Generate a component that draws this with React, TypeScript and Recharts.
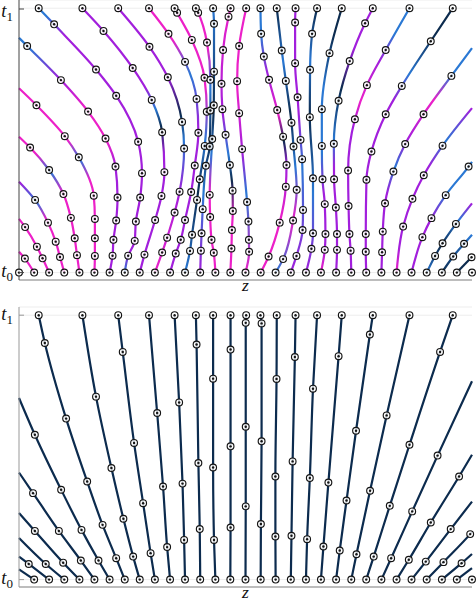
import { LineChart, Line, XAxis, YAxis, CartesianGrid } from "recharts";

type Pt = [number, number];
type Row = { z: number; t: number; mark: boolean };

// starting positions at t0 (one per trajectory)
const startZ = [
  -1, -0.933, -0.867, -0.8, -0.733, -0.667, -0.6, -0.533, -0.467, -0.4, -0.333,
  -0.267, -0.2, -0.133, -0.067, 0, 0.067, 0.133, 0.2, 0.267, 0.333, 0.4, 0.467,
  0.533, 0.6, 0.667, 0.733, 0.8, 0.867, 0.933, 1,
];

// where each trajectory lands at t1 (null = leaves the window first)
const endZ: (number | null)[] = [
  null, null, null, null, null, null, null,
  -0.913, -0.72, -0.562, -0.426, -0.313, -0.219, -0.143, -0.066, 0.003, 0.066,
  0.138, 0.221, 0.316, 0.425, 0.562, 0.724, 0.915,
  null, null, null, null, null, null, null,
];

// learned flow: solver steps between t0 and t1, [z, t]
const flowMarks: Pt[][] = [
  [],
  [[-0.974, 0.053]],
  [[-0.896, 0.054], [-0.921, 0.098], [-0.973, 0.172]],
  [[-0.819, 0.059], [-0.838, 0.117], [-0.872, 0.189], [-0.929, 0.275]],
  [[-0.744, 0.066], [-0.754, 0.13], [-0.771, 0.207], [-0.804, 0.297], [-0.867, 0.388], [-0.951, 0.473]],
  [[-0.665, 0.063], [-0.665, 0.13], [-0.665, 0.203], [-0.67, 0.291], [-0.736, 0.436], [-0.798, 0.516], [-0.923, 0.633]],
  [[-0.587, 0.064], [-0.583, 0.124], [-0.571, 0.197], [-0.565, 0.284], [-0.574, 0.401], [-0.618, 0.507], [-0.695, 0.609], [-0.815, 0.728], [-0.964, 0.857]],
  [[-0.518, 0.064], [-0.489, 0.12], [-0.484, 0.193], [-0.465, 0.284], [-0.457, 0.376], [-0.474, 0.495], [-0.571, 0.669], [-0.66, 0.768], [-0.845, 0.939]],
  [[-0.446, 0.068], [-0.399, 0.199], [-0.371, 0.29], [-0.358, 0.38], [-0.368, 0.531], [-0.414, 0.653], [-0.498, 0.774], [-0.627, 0.914]],
  [[-0.368, 0.076], [-0.346, 0.132], [-0.313, 0.227], [-0.291, 0.306], [-0.271, 0.469], [-0.28, 0.57], [-0.343, 0.739], [-0.424, 0.854]],
  [[-0.308, 0.072], [-0.286, 0.124], [-0.267, 0.199], [-0.24, 0.305], [-0.224, 0.405], [-0.208, 0.529], [-0.216, 0.657], [-0.267, 0.797], [-0.34, 0.903]],
  [[-0.245, 0.082], [-0.236, 0.143], [-0.214, 0.275], [-0.202, 0.353], [-0.18, 0.479], [-0.171, 0.608], [-0.181, 0.737], [-0.237, 0.88], [-0.302, 0.983]],
  [[-0.197, 0.083], [-0.194, 0.149], [-0.189, 0.24], [-0.175, 0.404], [-0.158, 0.477], [-0.155, 0.613], [-0.155, 0.729], [-0.17, 0.87], [-0.209, 0.983]],
  [[-0.14, 0.075], [-0.15, 0.124], [-0.156, 0.21], [-0.158, 0.294], [-0.147, 0.505], [-0.14, 0.633], [-0.139, 0.76], [-0.139, 0.941]],
  [[-0.062, 0.091], [-0.06, 0.161], [-0.056, 0.233], [-0.057, 0.31], [-0.069, 0.407], [-0.088, 0.521], [-0.102, 0.618], [-0.106, 0.714], [-0.099, 0.842], [-0.075, 0.968]],
  [[0.016, 0.079], [0.015, 0.124], [0.013, 0.193], [0.007, 0.267], [-0.015, 0.467], [-0.028, 0.603], [-0.037, 0.724], [-0.028, 0.857]],
  [[0.102, 0.061], [0.151, 0.189], [0.178, 0.325], [0.181, 0.407], [0.166, 0.514], [0.14, 0.615], [0.104, 0.729], [0.081, 0.817], [0.069, 0.903]],
  [[0.166, 0.051], [0.21, 0.197], [0.226, 0.313], [0.212, 0.477], [0.203, 0.567], [0.178, 0.725], [0.16, 0.84]],
  [[0.225, 0.063], [0.252, 0.161], [0.254, 0.237], [0.25, 0.429], [0.243, 0.502], [0.23, 0.663], [0.219, 0.792], [0.219, 0.946]],
  [[0.291, 0.09], [0.298, 0.149], [0.298, 0.357], [0.284, 0.588], [0.285, 0.767], [0.294, 0.903]],
  [[0.35, 0.086], [0.353, 0.146], [0.35, 0.259], [0.34, 0.353], [0.337, 0.479], [0.337, 0.618], [0.371, 0.83]],
  [[0.404, 0.086], [0.404, 0.146], [0.399, 0.246], [0.391, 0.353], [0.39, 0.487], [0.411, 0.65], [0.46, 0.8], [0.528, 0.943]],
  [[0.464, 0.083], [0.459, 0.146], [0.455, 0.252], [0.453, 0.386], [0.483, 0.58], [0.536, 0.709], [0.619, 0.842]],
  [[0.531, 0.079], [0.531, 0.146], [0.534, 0.351], [0.556, 0.458], [0.619, 0.599], [0.69, 0.706], [0.818, 0.875]],
  [[0.603, 0.077], [0.606, 0.155], [0.616, 0.262], [0.653, 0.382], [0.705, 0.486], [0.786, 0.599], [0.909, 0.744]],
  [[0.696, 0.174], [0.737, 0.279], [0.787, 0.368], [0.87, 0.48]],
  [[0.781, 0.134], [0.821, 0.206], [0.884, 0.293], [0.985, 0.401]],
  [[0.837, 0.063], [0.87, 0.111], [0.929, 0.184]],
  [[0.917, 0.061], [0.965, 0.109]],
  [[0.998, 0.058]],
  [],
];

// where flow trajectories cross the window edge
const flowExits: (Pt | null)[] = [
  null, [-1, 0.079], [-1, 0.203], [-1, 0.344], [-1, 0.514], [-1, 0.697], [-1, 0.888],
  null, null, null, null, null, null, null, null, null, null, null, null, null, null,
  null, null, null, [1, 0.849], [1, 0.622], [1, 0.419], [1, 0.262], [1, 0.143], null, null,
];

// colour along each flow path: [t, colour key]
const flowColors: [number, string][][] = [
  [[0, "M"]],
  [[0, "M"]],
  [[0, "M"]],
  [[0, "M"], [0.2, "M"], [0.27, "B"], [0.34, "P"]],
  [[0, "M"], [0.3, "M"], [0.38, "B"], [0.45, "M"]],
  [[0, "M"], [0.35, "M"], [0.43, "B"], [0.5, "M"], [0.62, "M"], [0.7, "P"]],
  [[0, "P"], [0.4, "P"], [0.5, "M"], [0.62, "M"], [0.73, "P"], [0.85, "B"]],
  [[0, "B"], [0.08, "P"], [0.9, "P"], [0.97, "B"]],
  [[0, "P"], [0.45, "P"], [0.55, "N"], [0.62, "B"], [0.7, "P"]],
  [[0, "M"], [0.3, "P"], [0.5, "B"], [0.6, "N"], [0.75, "P"]],
  [[0, "P"], [0.55, "P"], [0.75, "B"], [0.88, "M"]],
  [[0, "B"], [0.3, "N"], [0.5, "B"], [0.7, "M"]],
  [[0, "P"], [0.3, "B"], [0.5, "N"], [0.7, "B"], [0.85, "M"]],
  [[0, "M"], [0.3, "M"], [0.45, "B"], [0.6, "N"], [1, "B"]],
  [[0, "M"], [0.2, "M"], [0.35, "N"], [0.45, "B"], [0.6, "P"], [1, "M"]],
  [[0, "M"], [0.3, "B"], [0.45, "P"], [0.7, "M"]],
  [[0, "M"], [0.2, "M"], [0.4, "P"], [0.5, "N"], [0.6, "M"], [0.75, "P"], [0.9, "B"]],
  [[0, "B"], [0.2, "M"], [0.4, "B"], [0.6, "N"], [0.8, "B"], [1, "N"]],
  [[0, "P"], [0.4, "B"], [0.6, "P"]],
  [[0, "P"], [0.3, "B"], [0.6, "N"], [0.8, "B"], [1, "N"]],
  [[0, "M"], [0.1, "P"], [0.3, "P"], [0.45, "B"], [0.7, "B"], [0.9, "N"]],
  [[0, "P"], [0.4, "P"], [0.5, "B"], [0.7, "N"], [0.85, "P"]],
  [[0, "P"], [0.55, "P"], [0.65, "M"], [0.8, "P"], [0.9, "B"]],
  [[0, "P"], [0.65, "P"], [0.75, "B"], [0.9, "N"]],
  [[0, "P"], [0.3, "P"], [0.4, "B"], [0.5, "P"], [0.65, "M"], [0.75, "B"], [0.85, "N"]],
  [[0, "M"], [0.1, "P"], [0.4, "P"], [0.5, "B"], [0.62, "P"]],
  [[0, "P"], [0.2, "P"], [0.3, "B"], [0.42, "P"]],
  [[0, "B"], [0.1, "N"], [0.2, "B"], [0.26, "P"]],
  [[0, "N"], [0.14, "B"]],
  [[0, "N"]],
  [[0, "N"]],
];

// straight (rectified) paths: intermediate steps, [z, t]
const straightMarks: Pt[][] = [
  [],
  [],
  [[-0.957, 0.059]],
  [[-0.882, 0.059]],
  [[-0.805, 0.064], [-0.93, 0.184]],
  [[-0.727, 0.072], [-0.824, 0.184], [-0.938, 0.327]],
  [[-0.649, 0.072], [-0.724, 0.188], [-0.814, 0.34], [-0.93, 0.548]],
  [[-0.571, 0.081], [-0.631, 0.207], [-0.699, 0.371], [-0.792, 0.609], [-0.886, 0.895]],
  [[-0.496, 0.087], [-0.539, 0.23], [-0.592, 0.422], [-0.66, 0.692]],
  [[-0.419, 0.1], [-0.452, 0.289], [-0.492, 0.517], [-0.542, 0.861]],
  [[-0.346, 0.123], [-0.364, 0.352], [-0.39, 0.63]],
  [[-0.271, 0.15], [-0.278, 0.363], [-0.293, 0.67]],
  [[-0.202, 0.191], [-0.208, 0.441], [-0.216, 0.889]],
  [[-0.139, 0.15], [-0.143, 0.424], [-0.143, 0.76]],
  [[-0.066, 0.197], [-0.066, 0.504], [-0.066, 0.87]],
  [[0.001, 0.277], [0.001, 0.578], [0.001, 0.971]],
  [[0.068, 0.21], [0.071, 0.523], [0.071, 0.969]],
  [[0.132, 0.163], [0.132, 0.39], [0.137, 0.759]],
  [[0.203, 0.166], [0.208, 0.447], [0.218, 0.842]],
  [[0.272, 0.153], [0.284, 0.384], [0.298, 0.722]],
  [[0.344, 0.125], [0.366, 0.367], [0.411, 0.845]],
  [[0.416, 0.11], [0.446, 0.299], [0.488, 0.563], [0.549, 0.927]],
  [[0.49, 0.096], [0.55, 0.336], [0.623, 0.621]],
  [[0.566, 0.087], [0.637, 0.279], [0.724, 0.51], [0.859, 0.861]],
  [[0.643, 0.081], [0.736, 0.258], [0.848, 0.469]],
  [[0.721, 0.075], [0.818, 0.216], [0.943, 0.39]],
  [[0.796, 0.068], [0.906, 0.191]],
  [[0.874, 0.066], [0.992, 0.172]],
  [[0.954, 0.062]],
  [],
  [],
];

const straightExits: (Pt | null)[] = [
  null, [-1, 0.039], [-1, 0.087], [-1, 0.157], [-1, 0.252], [-1, 0.405], [-1, 0.687],
  null, null, null, null, null, null, null, null, null, null, null, null, null, null,
  null, null, null, [1, 0.75], [1, 0.472], [1, 0.295], [1, 0.18], [1, 0.097], [1, 0.043], null,
];
const straightHidden = [0];

const timeTicks = [0, 1];
const timeSubs = ["0", "1"];
const axisName = "z";

const palette: Record<string, string> = {
  M: "#ec20c8",
  P: "#a21fdc",
  B: "#2a78d4",
  N: "#0c2b4e",
};

const SERIF = "'Liberation Serif', 'DejaVu Serif', serif";
const TICK_FONT = 18.5;

function buildRows(i: number, marks: Pt[][], exits: (Pt | null)[]): Row[] {
  const rows: Row[] = [{ z: startZ[i], t: 0, mark: true }];
  marks[i].forEach(([z, t]) => rows.push({ z, t, mark: true }));
  const end = endZ[i];
  const exit = exits[i];
  if (end !== null) rows.push({ z: end, t: 1, mark: true });
  else if (exit) rows.push({ z: exit[0], t: exit[1], mark: false });
  return rows;
}

function markDot(props: any) {
  const { cx, cy, payload, index } = props;
  if (!payload || !payload.mark || cx == null || cy == null) return <g key={`d${index}`} />;
  return (
    <g key={`d${index}`}>
      <circle cx={cx} cy={cy} r={3.4} fill="#fff" fillOpacity={0.8} stroke="#141414" strokeWidth={1.15} />
      <circle cx={cx} cy={cy} r={1.2} fill="#141414" />
    </g>
  );
}

function Panel({
  id,
  marks,
  exits,
  colors,
  lineColor,
  axisColor,
  hidden,
  top,
  below,
}: {
  id: string;
  marks: Pt[][];
  exits: (Pt | null)[];
  colors?: [number, string][][];
  lineColor?: string;
  axisColor: string;
  hidden: number[];
  top: number;
  below: number;
}) {
  const paths = startZ.map((_, i) => buildRows(i, marks, exits));

  const timeTick = (p: any) => {
    const { x, y, payload, index } = p;
    const sub = timeSubs[timeTicks.indexOf(payload.value)] ?? "";
    // keep the label's box inside the picture when the tick sits at the very top
    const base = Math.max(y + 4.5, TICK_FONT * 0.9);
    return (
      <g key={`tk${index}`}>
        <line x1={x} x2={x + 5} y1={y} y2={y} stroke={axisColor} />
        <text x={x - 6} y={base} textAnchor="end" fontFamily={SERIF} fontStyle="italic" fontSize={TICK_FONT} fill="#111">
          t
          <tspan fontStyle="normal" fontSize={13} dy={4}>
            {sub}
          </tspan>
        </text>
      </g>
    );
  };

  const nameLabel = (p: any) => {
    const vb = p.viewBox || {};
    return (
      <text x={vb.x + vb.width / 2} y={vb.y + 10.8} textAnchor="middle" fontFamily={SERIF} fontStyle="italic" fontSize={17.5} fill="#111">
        {axisName}
      </text>
    );
  };

  return (
    <LineChart
      layout="vertical"
      width={476}
      height={top + 280 + below}
      margin={{ top, right: 4, bottom: 0, left: 0 }}
      style={{ overflow: "visible" }}
    >
      <defs>
        {colors &&
          paths.map((rows, i) => {
            const tmax = Math.max(...rows.map((r) => r.t));
            const stops = colors[i]
              .filter(([t]) => t <= tmax)
              .slice()
              .reverse();
            return (
              <linearGradient key={i} id={`${id}-g${i}`} x1="0" y1="0" x2="0" y2="1">
                {stops.map(([t, c], k) => (
                  <stop key={k} offset={tmax > 0 ? (tmax - t) / tmax : 0} stopColor={palette[c]} />
                ))}
              </linearGradient>
            );
          })}
      </defs>
      <CartesianGrid vertical={false} stroke="#ededed" />
      <XAxis
        type="number"
        dataKey="z"
        domain={[-1, 1]}
        tick={false}
        tickLine={false}
        axisLine={{ stroke: "#bdbdbd", strokeWidth: 2 }}
        height={below}
        label={nameLabel}
      />
      <YAxis
        type="number"
        dataKey="t"
        domain={[-0.028, 1.031]}
        ticks={timeTicks}
        reversed
        width={19}
        tickSize={0}
        tickMargin={0}
        tickLine={false}
        axisLine={{ stroke: axisColor }}
        tick={timeTick}
      />
      {paths.map((rows, i) =>
        hidden.includes(i) ? null : (
          <Line
            key={i}
            data={rows}
            dataKey="z"
            type="monotone"
            stroke={colors ? `url(#${id}-g${i})` : lineColor}
            strokeWidth={2.2}
            dot={markDot}
            activeDot={false}
            isAnimationActive={false}
          />
        )
      )}
    </LineChart>
  );
}

export default function App() {
  return (
    <div style={{ position: "absolute", left: 0, top: 0, width: 476, height: 602, background: "#fff" }}>
      <div style={{ position: "absolute", left: 0, top: 0 }}>
        <Panel
          id="flow"
          marks={flowMarks}
          exits={flowExits}
          colors={flowColors}
          axisColor="#444"
          hidden={[]}
          top={0}
          below={20}
        />
      </div>
      <div style={{ position: "absolute", left: 0, top: 300 }}>
        <Panel
          id="straight"
          marks={straightMarks}
          exits={straightExits}
          lineColor="#0c2b4e"
          axisColor="#999"
          hidden={straightHidden}
          top={7}
          below={15}
        />
      </div>
    </div>
  );
}
